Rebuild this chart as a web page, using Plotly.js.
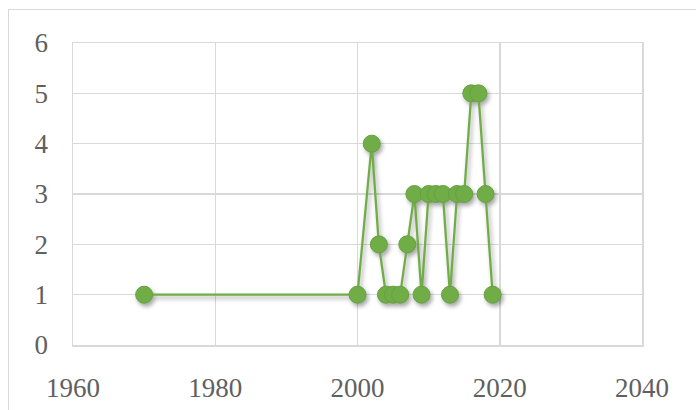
<!DOCTYPE html>
<html>
<head>
<meta charset="utf-8">
<script src="https://cdn.plot.ly/plotly-3.0.1.min.js"></script>
<style>
  html, body { margin: 0; padding: 0; background: #ffffff; }
  #wrap { position: relative; width: 696px; height: 410px; overflow: hidden; }
  #frame { position: absolute; left: 8px; top: 9px; width: 720px; height: 440px;
           border-top: 1.5px solid #d9d9d9; border-left: 1.5px solid #d9d9d9; box-sizing: border-box; }
  #chart { position: absolute; left: 0; top: 0; width: 696px; height: 410px; }
  .scatterlayer .trace { filter: drop-shadow(2px 3px 2px rgba(0,0,0,0.35)); }
</style>
</head>
<body>
<div id="wrap">
  <div id="frame"></div>
  <div id="chart"></div>
</div>
<script>
// Yearly counts
const years  = [1970, 2000, 2002, 2003, 2004, 2005, 2006, 2007, 2008, 2009,
                2010, 2011, 2012, 2013, 2014, 2015, 2016, 2017, 2018, 2019];
const counts = [1, 1, 4, 2, 1, 1, 1, 2, 3, 1,
                3, 3, 3, 1, 3, 3, 5, 5, 3, 1];

const xTicks = [1960, 1980, 2000, 2020, 2040];
const yTicks = [0, 1, 2, 3, 4, 5, 6];

const green = '#70ad47';
const gridColor = '#d9d9d9';
const tickFont = { family: 'Liberation Serif, serif', size: 27, color: '#606060' };

const trace = {
  x: years,
  y: counts,
  type: 'scatter',
  mode: 'lines+markers',
  line: { color: green, width: 2.25 },
  marker: { color: green, size: 17, line: { color: '#67a040', width: 1 } },
  cliponaxis: false,
  hoverinfo: 'x+y'
};

const layout = {
  width: 696,
  height: 410,
  margin: { l: 73, r: 54, t: 43, b: 65 },
  paper_bgcolor: 'rgba(0,0,0,0)',
  plot_bgcolor: 'rgba(0,0,0,0)',
  showlegend: false,
  xaxis: {
    range: [1960, 2040],
    tickvals: xTicks,
    ticktext: xTicks.map(String),
    showgrid: true,
    gridcolor: gridColor,
    gridwidth: 1.5,
    zeroline: false,
    showline: true,
    mirror: true,
    linecolor: gridColor,
    linewidth: 1.5,
    ticks: '',
    ticklabelstandoff: 18,
    tickfont: tickFont
  },
  yaxis: {
    range: [0, 6],
    tickvals: yTicks,
    ticktext: yTicks.map(String),
    showgrid: true,
    gridcolor: gridColor,
    gridwidth: 1.5,
    zeroline: false,
    showline: true,
    mirror: true,
    linecolor: gridColor,
    linewidth: 1.5,
    ticks: '',
    ticklabelstandoff: 18,
    tickfont: tickFont
  }
};

Plotly.newPlot('chart', [trace], layout, { displayModeBar: false, staticPlot: true });
</script>
</body>
</html>
